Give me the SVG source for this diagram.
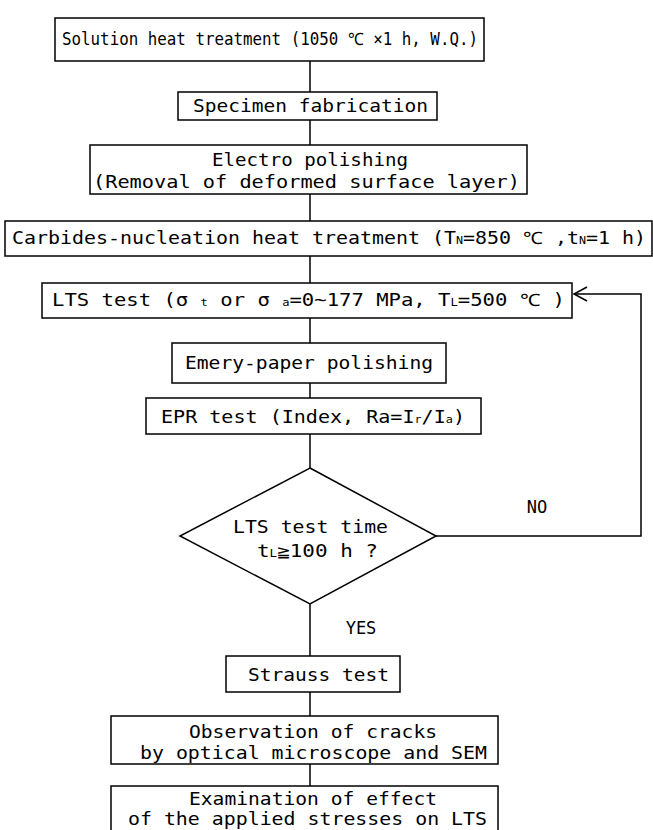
<svg xmlns="http://www.w3.org/2000/svg" width="653" height="830" viewBox="0 0 653 830">
<style>
.box{fill:#fff;stroke:#000;stroke-width:1.5}
.ln{fill:none;stroke:#000;stroke-width:1.5}
text{font-family:"DejaVu Sans Mono","Liberation Mono",monospace;font-size:17px;fill:#000}
.c{text-anchor:middle}
.sub{font-size:10px}
</style>
<defs>
<marker id="arr" markerWidth="16" markerHeight="16" refX="14" refY="8" orient="auto" markerUnits="userSpaceOnUse">
<path d="M1,1 L14,8 L1,15" fill="none" stroke="#000" stroke-width="1.5"/>
</marker>
</defs>
<rect width="653" height="830" fill="#fff"/>
<g id="connectors">
<line class="ln" x1="310" y1="61" x2="310" y2="92"/>
<line class="ln" x1="310" y1="120" x2="310" y2="145"/>
<line class="ln" x1="310" y1="194" x2="310" y2="221"/>
<line class="ln" x1="310" y1="256" x2="310" y2="283"/>
<line class="ln" x1="310" y1="318" x2="310" y2="343"/>
<line class="ln" x1="310" y1="383" x2="310" y2="398"/>
<line class="ln" x1="310" y1="434" x2="310" y2="468"/>
<line class="ln" x1="310" y1="604" x2="310" y2="656"/>
<line class="ln" x1="310" y1="692" x2="310" y2="716"/>
<line class="ln" x1="310" y1="764" x2="310" y2="786"/>
<path class="ln" d="M436,536 H641 V294 H574" marker-end="url(#arr)"/>
<text class="c" x="537" y="513">NO</text>
<text class="c" x="361" y="634">YES</text>
</g>
<g id="n1">
<rect class="box" x="55" y="18" width="429" height="43"/>
<text x="62" y="45" textLength="416" lengthAdjust="spacingAndGlyphs">Solution heat treatment (1050 ℃ ×1 h, W.Q.)</text>
</g>
<g id="n2">
<rect class="box" x="178" y="92" width="259" height="28"/>
<text x="193" y="112" textLength="235" lengthAdjust="spacingAndGlyphs">Specimen fabrication</text>
</g>
<g id="n3">
<rect class="box" x="90" y="145" width="437" height="49"/>
<text x="212" y="166" textLength="196" lengthAdjust="spacingAndGlyphs">Electro polishing</text>
<text x="93" y="188" textLength="427" lengthAdjust="spacingAndGlyphs">(Removal of deformed surface layer)</text>
</g>
<g id="n4">
<rect class="box" x="5" y="221" width="647" height="35"/>
<text x="12" y="244" textLength="634" lengthAdjust="spacingAndGlyphs">Carbides-nucleation heat treatment (T<tspan class="sub">N</tspan>=850 ℃ ,t<tspan class="sub">N</tspan>=1 h)</text>
</g>
<g id="n5">
<rect class="box" x="42" y="283" width="530" height="35"/>
<text x="52" y="306" textLength="513" lengthAdjust="spacingAndGlyphs">LTS test (σ <tspan class="sub">t</tspan> or σ <tspan class="sub">a</tspan>=0~177 MPa, T<tspan class="sub">L</tspan>=500 ℃ )</text>
</g>
<g id="n6">
<rect class="box" x="172" y="343" width="274" height="40"/>
<text x="185" y="369" textLength="248" lengthAdjust="spacingAndGlyphs">Emery-paper polishing</text>
</g>
<g id="n7">
<rect class="box" x="146" y="398" width="335" height="36"/>
<text x="161" y="423" textLength="304" lengthAdjust="spacingAndGlyphs">EPR test (Index, Ra=I<tspan class="sub">r</tspan>/I<tspan class="sub">a</tspan>)</text>
</g>
<g id="n8">
<polygon class="box" points="310,468 436,536 310,604 180,536"/>
<text x="233" y="533" textLength="155" lengthAdjust="spacingAndGlyphs">LTS test time</text>
<text x="257" y="557" textLength="121" lengthAdjust="spacingAndGlyphs">t<tspan class="sub">L</tspan>≧100 h ?</text>
</g>
<g id="n9">
<rect class="box" x="226" y="656" width="174" height="36"/>
<text x="248" y="681" textLength="141" lengthAdjust="spacingAndGlyphs">Strauss test</text>
</g>
<g id="n10">
<rect class="box" x="111" y="716" width="387" height="48"/>
<text x="189" y="738" textLength="248" lengthAdjust="spacingAndGlyphs">Observation of cracks</text>
<text x="140" y="759" textLength="347" lengthAdjust="spacingAndGlyphs">by optical microscope and SEM</text>
</g>
<g id="n11">
<rect class="box" x="111" y="786" width="387" height="50"/>
<text x="189" y="805" textLength="248" lengthAdjust="spacingAndGlyphs">Examination of effect</text>
<text x="128" y="825" textLength="359" lengthAdjust="spacingAndGlyphs">of the applied stresses on LTS</text>
</g>
</svg>
